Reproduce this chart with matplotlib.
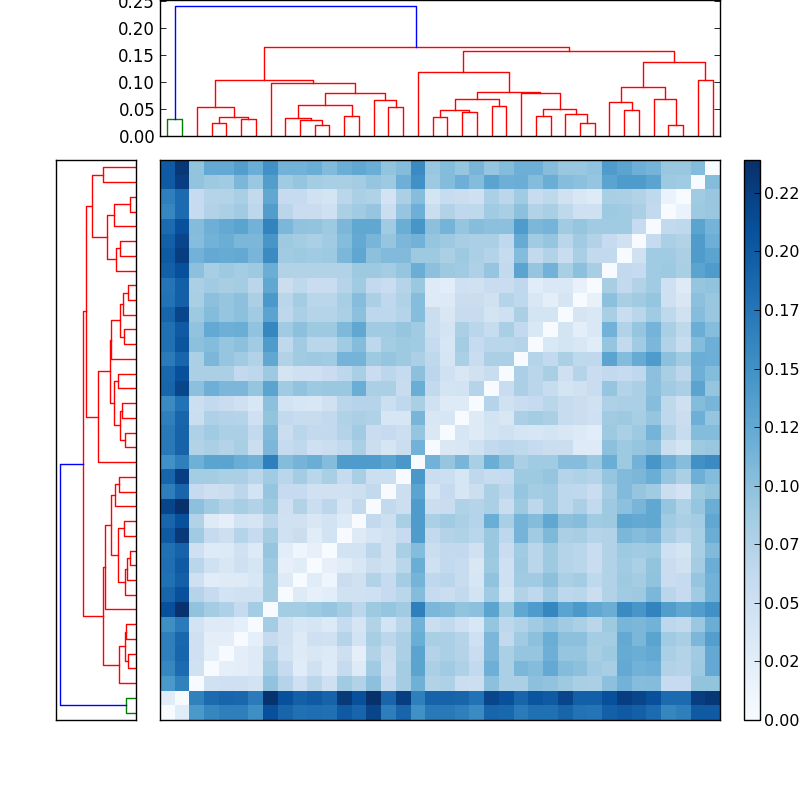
import numpy as np
import matplotlib
matplotlib.use("Agg")
import matplotlib.pyplot as plt

# Pairwise distances, thousandths; row k holds leaf k against leaves 0..k-1
row_01 = [28]
row_02 = [142,165]
row_03 = [160,185,48]
row_04 = [167,190,50,22]
row_05 = [167,188,50,25,25]
row_06 = [152,170,45,30,30,22]
row_07 = [210,237,98,85,78,60,85]
row_08 = [190,210,72,60,45,47,47,85]
row_09 = [180,195,50,28,30,30,38,85,30]
row_10 = [182,200,70,48,37,50,42,90,20,28]
row_11 = [180,192,50,30,33,48,33,95,27,12,20]
row_12 = [200,230,88,60,52,72,60,85,47,55,28,45]
row_13 = [190,210,75,30,22,45,42,68,48,48,37,45,30]
row_14 = [220,240,100,88,75,83,75,90,50,75,55,68,42,62]
row_15 = [168,190,60,52,55,68,45,95,60,60,48,48,48,52,62]
row_16 = [190,225,85,85,80,80,70,87,70,85,70,82,60,82,53,53]
row_17 = [150,167,117,130,130,120,115,167,105,113,120,105,140,140,140,130,143]
row_18 = [172,192,75,80,73,82,55,110,60,65,50,55,62,80,55,42,55,115]
row_19 = [172,192,78,88,80,80,62,107,55,70,62,62,73,87,56,60,53,95,35]
row_20 = [167,190,55,78,73,72,50,97,62,58,58,62,76,80,76,40,40,112,37,40]
row_21 = [155,178,53,62,56,50,38,100,45,40,37,47,70,72,72,53,65,82,47,30,30]
row_22 = [190,220,100,118,110,110,95,130,88,98,90,92,92,120,80,80,58,120,62,43,45,72]
row_23 = [188,210,80,80,80,62,67,90,43,50,50,56,67,82,56,68,60,100,68,47,37,47,56]
row_24 = [170,190,80,110,95,88,75,127,75,88,90,88,113,113,90,95,90,80,66,42,80,56,80,80]
row_25 = [180,205,100,105,95,100,87,140,65,87,70,70,88,105,67,85,90,87,60,40,85,60,70,70,72]
row_26 = [180,200,98,125,118,120,98,160,88,100,90,90,108,127,88,88,95,88,55,43,80,70,58,82,62,36]
row_27 = [190,220,90,105,95,100,88,130,67,80,72,72,80,100,67,67,72,103,55,37,58,58,43,50,80,43,43]
row_28 = [178,195,82,100,95,100,80,142,70,85,70,70,83,103,80,65,76,103,30,33,55,55,47,72,66,37,25,42]
row_29 = [176,195,80,88,83,85,70,127,55,66,56,56,72,88,62,56,72,92,30,27,50,47,56,56,65,28,35,35,18]
row_30 = [195,210,100,83,90,85,90,120,75,75,75,75,75,90,90,85,95,120,100,90,88,78,95,62,130,95,115,82,100,83]
row_31 = [200,225,115,125,123,125,112,155,87,90,87,90,110,128,100,107,107,90,90,80,90,80,74,60,105,62,75,56,82,62,62]
row_32 = [195,220,103,115,120,110,110,145,90,85,80,87,105,125,112,95,110,115,95,90,83,80,80,65,123,88,95,70,88,75,60,47]
row_33 = [185,210,105,118,125,130,115,163,110,98,97,90,110,127,127,88,120,145,100,113,95,103,100,100,140,110,113,87,95,88,87,88,60]
row_34 = [160,185,60,75,80,87,67,138,70,56,56,50,80,87,95,55,95,118,55,75,65,66,88,82,100,75,82,66,50,50,90,88,80,62]
row_35 = [167,185,60,72,74,82,62,127,60,60,47,43,70,80,76,44,80,103,43,58,55,50,80,68,88,58,66,48,37,30,82,80,75,66,16]
row_36 = [200,225,97,90,87,110,92,138,87,95,85,82,82,85,95,90,118,150,90,105,118,105,130,118,120,105,120,103,100,95,130,140,140,130,90,88]
row_37 = [200,232,97,125,125,137,120,150,115,115,120,107,120,127,120,97,105,155,93,105,95,112,95,105,118,118,103,93,93,98,140,130,118,113,93,93,105]

# Tree: each merge joins two nodes (leaf ids 0-37, merged nodes 38 upward)
merge_left = [0,3,5,39,2,10,9,8,12,45,15,14,47,7,42,18,20,53,22,55,25,28,27,58,24,57,17,31,30,34,33,66,36,69,64,52,38]
merge_right = [1,4,6,40,41,11,43,44,13,46,16,48,49,50,51,19,21,54,23,56,26,29,59,60,61,62,63,32,65,35,67,68,37,70,71,72,73]
merge_height = [.031,.0247,.032,.0346,.0543,.0198,.0296,.0333,.0377,.0568,.053,.0667,.0802,.098,.103,
                .0352,.0438,.0488,.0562,.0685,.0377,.0247,.0407,.0506,.079,.0815,.1185,.0488,.0636,
                .0198,.0685,.0901,.1037,.1377,.158,.1654,.2407]
cbar_ticks = [0, .025, .05, .075, .1, .125, .15, .175, .2, .225]
cbar_labels = ["0.00","0.02","0.05","0.07","0.10","0.12","0.15","0.17","0.20","0.22"]
top_ticks = [0, .05, .10, .15, .20, .25]
top_labels = ["0.00","0.05","0.10","0.15","0.20","0.25"]

rows = [row_01,row_02,row_03,row_04,row_05,row_06,row_07,row_08,row_09,row_10,row_11,row_12,
        row_13,row_14,row_15,row_16,row_17,row_18,row_19,row_20,row_21,row_22,row_23,row_24,
        row_25,row_26,row_27,row_28,row_29,row_30,row_31,row_32,row_33,row_34,row_35,row_36,row_37]
n = len(rows) + 1
D = np.zeros((n, n))
for k, r in enumerate(rows, start=1):
    D[k, :k] = np.array(r) / 1000
    D[:k, k] = np.array(r) / 1000

plt.rcParams["font.family"] = "DejaVu Sans"
plt.rcParams["font.size"] = 12
fig = plt.figure(figsize=(8, 8), dpi=100)

def box(x0, y0, x1, y1):
    return [x0/800, 1-y1/800, (x1-x0)/800, (y1-y0)/800]

ax_top = fig.add_axes(box(160, 0, 720, 136))
ax_left = fig.add_axes(box(56, 160, 136, 720))
ax_main = fig.add_axes(box(160, 160, 720, 720))
ax_cb = fig.add_axes(box(744, 160, 760, 720))

pos = {i: (i + .5, 0.0) for i in range(n)}
colors = {0: "g", len(merge_height) - 1: "b"}
for m, (a, b, h) in enumerate(zip(merge_left, merge_right, merge_height)):
    xa, ya = pos[a]
    xb, yb = pos[b]
    c = colors.get(m, "r")
    ax_top.plot([xa, xa, xb, xb], [ya, h, h, yb], color=c, lw=1)
    ax_left.plot([ya, h, h, yb], [xa, xa, xb, xb], color=c, lw=1)
    pos[n + m] = ((xa + xb) / 2, h)

dmax = .2518
ax_top.set_xlim(0, n)
ax_top.set_ylim(0, dmax)
ax_top.set_xticks([])
ax_top.set_yticks(top_ticks, top_labels)
ax_top.tick_params(axis="y", direction="in", left=True, right=True, length=4, width=.6)
ax_left.set_ylim(0, n)
ax_left.set_xlim(dmax, 0)
ax_left.set_xticks([])
ax_left.set_yticks([])

mesh = ax_main.pcolormesh(np.arange(n + 1), np.arange(n + 1), D, cmap="Blues", vmin=0, vmax=.239)
ax_main.set_xticks([])
ax_main.set_yticks([])
cb = fig.colorbar(mesh, cax=ax_cb)
cb.set_ticks(cbar_ticks, labels=cbar_labels)
cb.ax.tick_params(direction="in", length=4, width=.6, colors="k", labelsize=11.5, pad=3)
for ax in (ax_top, ax_left, ax_main, ax_cb):
    for s in ax.spines.values():
        s.set_linewidth(1)
fig.savefig("out.png", dpi=100)
